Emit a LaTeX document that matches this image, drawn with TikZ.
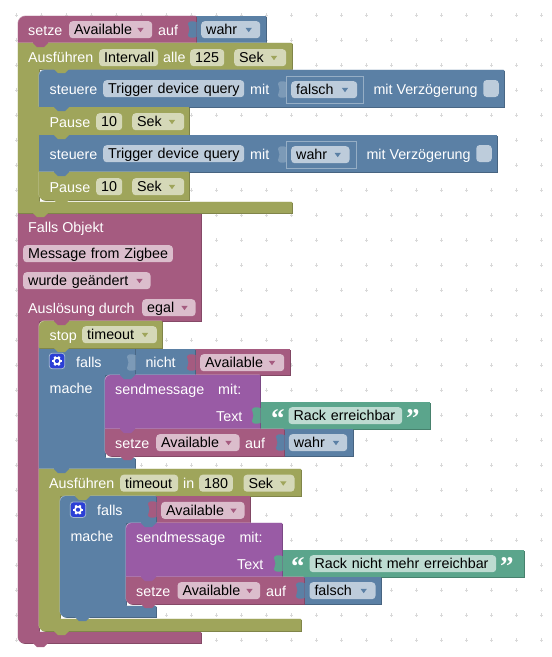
\documentclass[tikz,border=0pt]{standalone}
\usepackage{fontspec}
\setmainfont{Liberation Sans}
\definecolor{magblk}{HTML}{A55B80}
\definecolor{oliblk}{HTML}{9FA55B}
\definecolor{blublk}{HTML}{5B80A5}
\definecolor{purblk}{HTML}{995BA5}
\definecolor{grnblk}{HTML}{5BA58C}
\definecolor{magfld}{HTML}{DBBDCC}
\definecolor{olifld}{HTML}{D5D8B8}
\definecolor{blufld}{HTML}{BDCCDB}
\definecolor{grnfld}{HTML}{BDDBD1}
\definecolor{gearblu}{HTML}{2B3FD6}
\tikzset{
  block/.style={fill=#1,
    preaction={fill=#1!78!black, transform canvas={shift={(0.8pt,-0.8pt)}}},
    preaction={fill=#1!55!white, transform canvas={shift={(-0.5pt,0.5pt)}}}},
  magbox/.style={block=magblk},
  olibox/.style={block=oliblk},
  blubox/.style={block=blublk},
  purbox/.style={block=purblk},
  grnbox/.style={block=grnblk},
  lab/.style={anchor=base west, inner sep=0pt, text=white, font=\fontsize{14.3}{16}\selectfont},
  field/.style={anchor=north west, inner xsep=5pt, inner ysep=1.5pt, text height=12pt,
    text depth=2pt, rounded corners=3.5pt, text=black, align=left,
    font=\fontsize{14.3}{16}\selectfont},
}
% label: name, x, baseline y, text
\newcommand{\lab}[4]{\node[lab] (#1) at (#2,#3) {#4};}
% field: name, x1, x2, top y, colour, text
\newcommand{\fieldpill}[6]{%
  \pgfmathsetmacro{\fw}{#3-#2-10}%
  \node[field, fill=#5, text width=\fw pt] (#1) at (#2,#4) {\mbox{#6}};}
% dropdown mark: centre x, top y of the field, colour
\newcommand{\dropmark}[3]{\fill[#3] (#1-3.2,#2+6.8) -- (#1+3.2,#2+6.8) -- (#1,#2+11.2) -- cycle;}
% value tab: x, y, colour
\newcommand{\valtab}[3]{\fill[#3] (#1+0.5,#2) -- (#1,#2) .. controls (#1-3,#2-1.5) and (#1-8,#2-1) .. (#1-8,#2+2)
  .. controls (#1-8,#2+4) and (#1-6.5,#2+5) .. (#1-6.5,#2+7.5) .. controls (#1-6.5,#2+10) and (#1-8,#2+11) .. (#1-8,#2+13)
  .. controls (#1-8,#2+16) and (#1-3,#2+16.5) .. (#1,#2+15) -- (#1+0.5,#2+15) -- cycle;}
% gear icon: name, centre x, centre y
\newcommand{\gearicon}[3]{%
  \node[fill=gearblu, draw=blublk!55!white, line width=0.8pt, rounded corners=3pt, minimum size=15.5pt,
    inner sep=0pt] (#1) at (#2,#3) {};
  \foreach \a in {0,60,...,300} {\draw[white, line width=2pt] (#2,#3) -- ++(\a:5);}
  \fill[white] (#2,#3) circle (4);
  \fill[gearblu] (#2,#3) circle (2.1);}
% quotes: name, x, baseline y
\newcommand{\quotemark}[3]{\node[anchor=base west, inner sep=0pt, text=white,
  font=\fontsize{27}{27}\bfseries\fontspec{Liberation Serif}] (#1) at (#2,#3) {\char"201C};}
\newcommand{\quoteend}[3]{\node[anchor=base west, inner sep=0pt, text=white,
  font=\fontsize{27}{27}\bfseries\fontspec{Liberation Serif}] (#1) at (#2,#3) {\char"201D};}

\begin{document}
\begin{tikzpicture}[x=1pt, y=-1pt]
  \useasboundingbox (0,0) rectangle (552,657);

  % Workspace grid
  \foreach \x in {0,...,21} {
    \foreach \y in {0,...,25} {
      \draw[gray!30, line width=0.7pt] (16.7+25*\x-1.7,15+25*\y) -- ++(3.4,0);
      \draw[gray!30, line width=0.7pt] (16.7+25*\x,15+25*\y-1.7) -- ++(0,3.4);
    }
  }

  % Outer blocks
  \path[blubox] (196,16) -- (266,16) -- (266,43) -- (196,43) -- cycle;
  \path[magbox] (18,24) .. controls (18,19.5) and (21.5,16) .. (26,16) -- (196,16) -- (196,43) -- (18,43) -- cycle;
  \path[magbox] (18,213) -- (201,213) -- (201,321) -- (39,321) -- (39,632) -- (201,632) -- (201,643) -- (24,643)
    .. controls (20.5,643) and (18,640.5) .. (18,637) -- cycle;
  \path[olibox] (18,43) -- (292,43) -- (292,69) -- (39,69) -- (39,202) -- (292,202) -- (292,213) -- (18,213) -- cycle;

  % Interval body
  \path[blubox] (39,76) .. controls (39,72.5) and (42,70) .. (45,70) -- (504,70) -- (504,107) -- (39,107) -- cycle;
  \path[olibox] (39,107) -- (189,107) -- (189,135) -- (39,135) -- cycle;
  \path[blubox] (39,135) -- (497,135) -- (497,172) -- (39,172) -- cycle;
  \path[olibox] (39,172) -- (189,172) -- (189,200) -- (45,200) .. controls (41.5,200) and (39,197.5) .. (39,194) -- cycle;

  % Trigger body
  \path[magbox] (195,349) -- (290,349) -- (290,375) -- (195,375) -- cycle;
  \path[blubox] (135,349) -- (195,349) -- (195,375) -- (135,375) -- cycle;
  \path[blubox] (39,348) -- (135,348) -- (135,375) -- (105,375) -- (105,458) -- (135,458) -- (135,469) -- (39,469) -- cycle;
  \path[olibox] (39,327) .. controls (39,323.5) and (42,321) .. (45,321) -- (162,321) -- (162,348) -- (39,348) -- cycle;
  \path[grnbox] (260,402) -- (430,402) -- (430,429) -- (260,429) -- cycle;
  \path[purbox] (105,381) .. controls (105,377.5) and (108,375) .. (111,375) -- (260,375) -- (260,429) -- (105,429) -- cycle;
  \path[blubox] (284,429) -- (353,429) -- (353,456) -- (284,456) -- cycle;
  \path[magbox] (105,429) -- (284,429) -- (284,456) -- (111,456) .. controls (107.5,456) and (105,453.5) .. (105,450) -- cycle;

  \path[olibox] (39,469) -- (301,469) -- (301,496) -- (60,496) -- (60,619) -- (301,619) -- (301,631) -- (45,631)
    .. controls (41.5,631) and (39,628.5) .. (39,625) -- cycle;
  \path[magbox] (156,496) -- (250,496) -- (250,523) -- (156,523) -- cycle;
  \path[blubox] (60,502) .. controls (60,498.5) and (63,496) .. (66,496) -- (156,496) -- (156,523) -- (126,523) -- (126,606)
    -- (156,606) -- (156,617) -- (66,617) .. controls (62.5,617) and (60,614.5) .. (60,611) -- cycle;
  \path[grnbox] (282,550) -- (524,550) -- (524,577) -- (282,577) -- cycle;
  \path[purbox] (126,529) .. controls (126,525.5) and (129,523) .. (132,523) -- (282,523) -- (282,577) -- (126,577) -- cycle;
  \path[blubox] (304,577) -- (381,577) -- (381,604) -- (304,604) -- cycle;
  \path[magbox] (126,577) -- (304,577) -- (304,604) -- (132,604) .. controls (128.5,604) and (126,601.5) .. (126,598) -- cycle;

  % Statement notches
  \foreach \x/\y/\c in {33/43/magblk, 54/69/oliblk, 54/107/blublk, 54/135/oliblk, 54/172/blublk, 54/200/oliblk,
    33/213/oliblk, 54/321/magblk, 54/348/oliblk, 120/375/blublk, 120/429/purblk, 120/456/magblk,
    54/469/blublk, 75/496/oliblk, 141/523/blublk, 141/577/purblk, 141/604/magblk, 75/617/blublk,
    54/631/oliblk, 33/643/magblk} {
    \fill[\c] (\x,\y-1) -- (\x,\y) -- (\x+4,\y+4) -- (\x+11,\y+4) -- (\x+15,\y) -- (\x+15,\y-1) -- cycle;
  }

  % Value tabs
  \valtab{196}{22}{blublk}
  \valtab{195}{355}{magblk}
  \valtab{260}{408}{grnblk}
  \valtab{284}{435}{blublk}
  \valtab{156}{502}{magblk}
  \valtab{282}{556}{grnblk}
  \valtab{304}{583}{blublk}
  \valtab{135}{355}{blublk!80!white}
  \valtab{286}{82}{blublk!80!white}
  \valtab{286}{147}{blublk!80!white}

  % Shadow input frames
  \draw[blufld!60!blublk, line width=0.7pt] (286,76) rectangle (363,103);
  \draw[blufld!60!blublk, line width=0.7pt] (286,141) rectangle (356,168);

  % Labels and fields, top to bottom
  \lab{setzeTop}{28}{35}{setze}
  \fieldpill{availTop}{69}{152}{21}{magfld}{Available}\dropmark{140.5}{21}{magblk}
  \lab{aufTop}{158}{35}{auf}
  \fieldpill{wahrTop}{201}{260}{21}{blufld}{wahr}\dropmark{248.7}{21}{blublk}

  \lab{runInt}{28}{62.5}{Ausführen}
  \fieldpill{intervall}{99}{158}{49}{olifld}{Intervall}
  \lab{alle}{163}{62.5}{alle}
  \fieldpill{secsInt}{190}{224}{49}{olifld}{125}
  \fieldpill{unitInt}{234}{286}{49}{olifld}{Sek}\dropmark{274}{49}{oliblk}

  \lab{ctrlA}{49.5}{94}{steuere}
  \fieldpill{trigA}{103}{244}{80}{blufld}{Trigger device query}
  \lab{mitA}{250}{94}{mit}
  \fieldpill{falschA}{291}{357}{81}{blufld}{falsch}\dropmark{345}{81}{blublk}
  \lab{delayA}{373.3}{94}{mit Verzögerung}
  \node[fill=blufld, rounded corners=3.5pt, minimum width=15.5pt, minimum height=17pt, inner sep=0pt] (chkA) at (491,88.5) {};

  \lab{pauseA}{49.5}{127}{Pause}
  \fieldpill{tenA}{96}{122}{113}{olifld}{10}
  \fieldpill{unitA}{132}{184}{113}{olifld}{Sek}\dropmark{172}{113}{oliblk}

  \lab{ctrlB}{49.5}{159}{steuere}
  \fieldpill{trigB}{103}{244}{145}{blufld}{Trigger device query}
  \lab{mitB}{250}{159}{mit}
  \fieldpill{wahrB}{291}{349.3}{146}{blufld}{wahr}\dropmark{337.7}{146}{blublk}
  \lab{delayB}{366.3}{159}{mit Verzögerung}
  \node[fill=blufld, rounded corners=3.5pt, minimum width=15.5pt, minimum height=17pt, inner sep=0pt] (chkB) at (484,153.5) {};

  \lab{pauseB}{49.5}{192}{Pause}
  \fieldpill{tenB}{96}{122}{178}{olifld}{10}
  \fieldpill{unitB}{132}{184}{178}{olifld}{Sek}\dropmark{172}{178}{oliblk}

  \lab{fallsObj}{28}{232}{Falls Objekt}
  \fieldpill{msgObj}{23}{172.7}{245}{magfld}{Message from Zigbee}
  \fieldpill{changed}{23}{150.3}{272}{magfld}{wurde geändert}\dropmark{139.5}{272}{magblk}
  \lab{trigBy}{28}{313}{Auslösung durch}
  \fieldpill{egal}{142}{195.3}{299}{magfld}{egal}\dropmark{184.5}{299}{magblk}

  \lab{stopLab}{49.5}{340}{stop}
  \fieldpill{stopTo}{82}{156.7}{326}{olifld}{timeout}\dropmark{145}{326}{oliblk}

  \gearicon{gearA}{57}{361}
  \lab{fallsA}{76}{367}{falls}
  \lab{nicht}{145.3}{367}{nicht}
  \fieldpill{availNot}{200}{284}{354}{magfld}{Available}\dropmark{272}{354}{magblk}
  \lab{macheA}{49.5}{393}{mache}
  \lab{sendA}{115}{394}{sendmessage}
  \lab{mitSendA}{218}{394}{mit:}
  \lab{textA}{216}{421}{Text}
  \quotemark{openA}{271}{427}
  \fieldpill{rackA}{288.3}{402}{407}{grnfld}{Rack erreichbar}
  \quoteend{closeA}{406}{427}
  \lab{setzeA}{115}{448}{setze}
  \fieldpill{availA}{156}{239.3}{434}{magfld}{Available}\dropmark{228.5}{434}{magblk}
  \lab{aufA}{245}{448}{auf}
  \fieldpill{wahrA}{288.7}{347}{434}{blufld}{wahr}\dropmark{336}{434}{blublk}

  \lab{runTo}{49}{488}{Ausführen}
  \fieldpill{toName}{120}{178}{474.5}{olifld}{timeout}
  \lab{inLab}{183}{488}{in}
  \fieldpill{secsTo}{199}{232.7}{474.5}{olifld}{180}
  \fieldpill{unitTo}{243.3}{294.3}{474.5}{olifld}{Sek}\dropmark{283.3}{474.5}{oliblk}

  \gearicon{gearB}{78}{509.7}
  \lab{fallsB}{97}{515}{falls}
  \fieldpill{availIf}{161}{244.3}{501.7}{magfld}{Available}\dropmark{233.5}{501.7}{magblk}
  \lab{macheB}{70.3}{541}{mache}
  \lab{sendB}{136}{542}{sendmessage}
  \lab{mitSendB}{239.3}{542}{mit:}
  \lab{textB}{237}{569}{Text}
  \quotemark{openB}{291}{575}
  \fieldpill{rackB}{309.3}{496}{555}{grnfld}{Rack nicht mehr erreichbar}
  \quoteend{closeB}{500}{575}
  \lab{setzeB}{136}{596}{setze}
  \fieldpill{availB}{177.3}{260}{582}{magfld}{Available}\dropmark{249.5}{582}{magblk}
  \lab{aufB}{266}{596}{auf}
  \fieldpill{falschB}{309.3}{375.3}{582}{blufld}{falsch}\dropmark{363.7}{582}{blublk}
\end{tikzpicture}
\end{document}
